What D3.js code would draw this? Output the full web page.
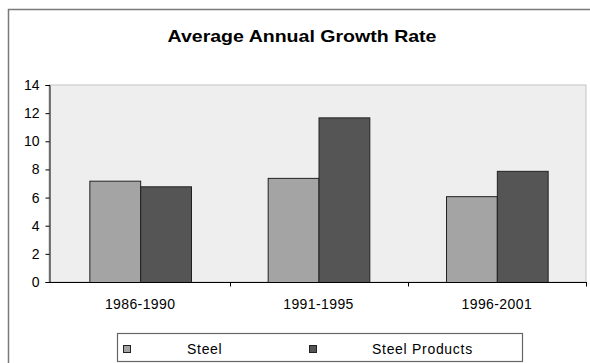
<!DOCTYPE html>
<html lang="en">
<head>
    <meta charset="UTF-8">
    <script src="https://d3js.org/d3.v7.min.js"></script>
    <style>
        body { margin: 0; background: #fff; }
        text { font-family: "Liberation Sans", Arial, sans-serif; fill: #000; }
    </style>
</head>
<body>
    <svg width="590" height="363"></svg>

    <script>
        let categories = ["1986-1990", "1991-1995", "1996-2001"];
        let seriesNames = ["Steel", "Steel Products"];
        let steel = [7.2, 7.4, 6.1];
        let steelProducts = [6.8, 11.7, 7.9];
        let yTicks = [0, 2, 4, 6, 8, 10, 12, 14];

        let colors = ["#a4a4a4", "#555555"];

        let svg = d3.select("svg");

        // outer chart border runs past the right and bottom edges of the picture
        svg.append("rect")
            .attr("x", 8.5).attr("y", 9.5)
            .attr("width", 620).attr("height", 400)
            .attr("fill", "none").attr("stroke", "#7a7a7a").attr("stroke-width", 1.5);

        svg.append("text")
            .attr("x", 302).attr("y", 42)
            .attr("text-anchor", "middle")
            .attr("font-size", 17).attr("font-weight", "bold")
            .attr("textLength", 269).attr("lengthAdjust", "spacingAndGlyphs")
            .text("Average Annual Growth Rate");

        let plot = { left: 49, right: 586, top: 85, bottom: 282 };

        let x0 = d3.scaleBand()
            .domain(categories)
            .range([plot.left + 2, plot.right])
            .paddingInner(0.43)
            .paddingOuter(0.215);

        let x1 = d3.scaleBand()
            .domain(seriesNames)
            .range([0, x0.bandwidth()]);

        let y = d3.scaleLinear()
            .domain([0, 14])
            .range([plot.bottom, plot.top]);

        // plot area
        svg.append("rect")
            .attr("x", plot.left).attr("y", plot.top)
            .attr("width", plot.right - plot.left).attr("height", plot.bottom - plot.top)
            .attr("fill", "#eeeeee").attr("stroke", "#c4c4c4").attr("stroke-width", 1);

        let rows = categories.map((c, i) => ({ cat: c, values: [steel[i], steelProducts[i]] }));

        let groups = svg.selectAll(".grp")
            .data(rows)
            .enter()
            .append("g")
            .attr("class", "grp")
            .attr("transform", d => "translate(" + x0(d.cat) + ",0)");

        groups.selectAll("rect")
            .data(d => d.values.map((v, j) => ({ name: seriesNames[j], v: v, j: j })))
            .enter()
            .append("rect")
            .attr("x", d => x1(d.name) + 0.5)
            .attr("y", d => y(d.v) + 0.5)
            .attr("width", x1.bandwidth())
            .attr("height", d => y(0) - y(d.v))
            .attr("fill", d => colors[d.j])
            .attr("stroke", "#222")
            .attr("stroke-width", 1);

        // y axis
        let yAxis = svg.append("g")
            .attr("transform", "translate(" + (plot.left + 0.5) + ",0)")
            .call(d3.axisLeft(y).tickValues(yTicks).tickSize(4).tickPadding(6));
        yAxis.select(".domain").attr("stroke", "#000");
        yAxis.selectAll("text").attr("font-size", 14).attr("font-family", "Liberation Sans, Arial, sans-serif").attr("fill", "#000");

        // x axis: ticks sit between categories
        let xAxisG = svg.append("g").attr("transform", "translate(0," + (plot.bottom + 0.5) + ")");
        xAxisG.append("line")
            .attr("x1", plot.left).attr("x2", plot.right + 1)
            .attr("stroke", "#000");
        let bounds = [230, 408, plot.right];
        xAxisG.selectAll(".xt")
            .data(bounds)
            .enter()
            .append("line")
            .attr("class", "xt")
            .attr("x1", d => d + 0.5).attr("x2", d => d + 0.5)
            .attr("y1", 0).attr("y2", 4)
            .attr("stroke", "#000");
        xAxisG.selectAll(".xl")
            .data(categories)
            .enter()
            .append("text")
            .attr("class", "xl")
            .attr("x", d => x0(d) + x0.bandwidth() / 2)
            .attr("y", 26)
            .attr("text-anchor", "middle")
            .attr("font-size", 14)
            .attr("letter-spacing", 0.4)
            .text(d => d);

        // legend
        let legend = svg.append("g");
        legend.append("rect")
            .attr("x", 117.5).attr("y", 333.5)
            .attr("width", 405).attr("height", 28)
            .attr("fill", "#fff").attr("stroke", "#666").attr("stroke-width", 1.2);
        let swatchX = [123, 309];
        let labelX = [187, 372];
        seriesNames.forEach((name, i) => {
            legend.append("rect")
                .attr("x", swatchX[i] + 0.5).attr("y", 345.5)
                .attr("width", 7).attr("height", 7)
                .attr("fill", colors[i]).attr("stroke", "#222");
            legend.append("text")
                .attr("x", labelX[i]).attr("y", 354)
                .attr("font-size", 14)
                .attr("letter-spacing", 0.7)
                .text(name);
        });
    </script>
</body>
</html>
